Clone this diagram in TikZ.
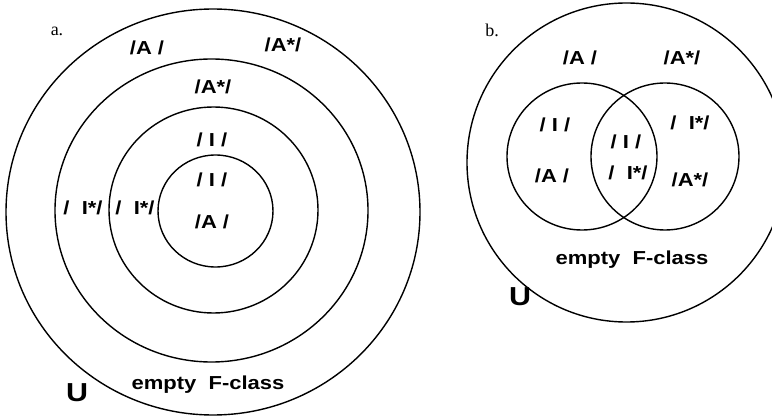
\documentclass[tikz,border=0pt]{standalone}
\usepackage{fontspec}
\setmainfont{Liberation Sans}[FakeStretch=1.17]
\newfontfamily\serifL{Liberation Serif}
\begin{document}
\begin{tikzpicture}[x=1pt,y=-1pt,
  ring/.style={line width=1.4pt},
  lab/.style={font=\fontsize{18.8}{20}\selectfont\bfseries, inner sep=0pt},
  ulab/.style={font=\fontsize{26}{28}\selectfont\bfseries, inner sep=0pt},
  tag/.style={font=\serifL\fontsize{18}{20}\selectfont, inner sep=0pt}]
\useasboundingbox (0,0) rectangle (772,417);
\clip (0,0) rectangle (772,417);
% diagram a
\draw[ring] (213,212) ellipse [x radius=207, y radius=203];
\draw[ring] (211.5,210.5) ellipse [x radius=156.5, y radius=151.5];
\draw[ring] (213.5,210) ellipse [x radius=104.5, y radius=103];
\draw[ring] (215.5,211) ellipse [x radius=57.5, y radius=56];
\node[tag] (ta) at (57,31) {a.};
\node[lab] (a1) at (147,48) {/A /};
\node[lab] (a2) at (283,45) {/A*/};
\node[lab] (a3) at (213,87) {/A*/};
\node[lab] (a4) at (212,140) {/ I /};
\node[lab] (a5) at (212,180) {/ I /};
\node[lab] (a6) at (212,222) {/A /};
\node[lab] (a7) at (83,208) {/~ I*/};
\node[lab] (a8) at (135,208) {/~ I*/};
\node[ulab] (au) at (77,393) {U};
\node[lab] (ae) at (208,385) {empty~ F-class};
% diagram b
\draw[ring] (626.5,162.5) circle [radius=159.5];
\draw[ring] (582,156.5) ellipse [x radius=75, y radius=73.5];
\draw[ring] (665,156.5) ellipse [x radius=74, y radius=73.5];
\node[tag] (tb) at (492,30) {b.};
\node[lab] (b1) at (580,58) {/A /};
\node[lab] (b2) at (682,58) {/A*/};
\node[lab] (b3) at (555,125) {/ I /};
\node[lab] (b4) at (552,176) {/A /};
\node[lab] (b5) at (626,142) {/ I /};
\node[lab] (b6) at (628,173) {/~ I*/};
\node[lab] (b7) at (690,123) {/~ I*/};
\node[lab] (b8) at (690,180) {/A*/};
\node[lab] (be) at (632,260) {empty~ F-class};
\node[ulab] (bu) at (520,297) {U};
\end{tikzpicture}
\end{document}
